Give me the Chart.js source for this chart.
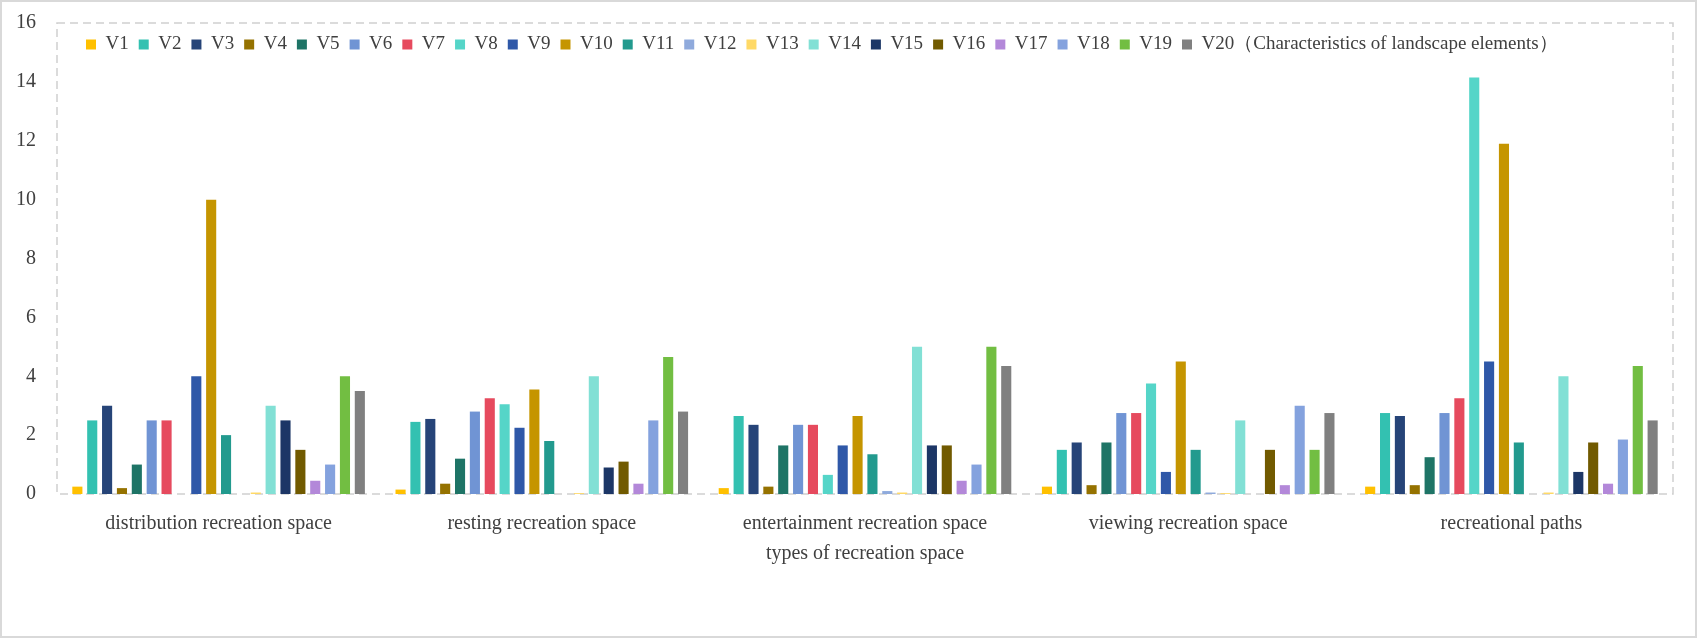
<!DOCTYPE html>
<html>
<head>
<meta charset="utf-8">
<script src="https://cdn.jsdelivr.net/npm/chart.js@4.4.1/dist/chart.umd.min.js"></script>
<style>
  html, body { margin: 0; padding: 0; background: #fff; }
  #wrap { width: 1697px; height: 638px; box-sizing: border-box; border: 2px solid #d9d9d9; }
</style>
</head>
<body>
<div id="wrap"><canvas id="chart"></canvas></div>
<script>
const categories = ['distribution recreation space', 'resting recreation space', 'entertainment recreation space', 'viewing recreation space', 'recreational paths'];
const seriesLabels = ['V1', 'V2', 'V3', 'V4', 'V5', 'V6', 'V7', 'V8', 'V9', 'V10',
  'V11', 'V12', 'V13', 'V14', 'V15', 'V16', 'V17', 'V18', 'V19', 'V20（Characteristics of landscape elements）'];
const yTicks = [0, 2, 4, 6, 8, 10, 12, 14, 16];

// one array per element, values for the five space types
const v1  = [0.25, 0.15, 0.2, 0.25, 0.25];
const v2  = [2.5, 2.45, 2.65, 1.5, 2.75];
const v3  = [3.0, 2.55, 2.35, 1.75, 2.65];
const v4  = [0.2, 0.35, 0.25, 0.3, 0.3];
const v5  = [1.0, 1.2, 1.65, 1.75, 1.25];
const v6  = [2.5, 2.8, 2.35, 2.75, 2.75];
const v7  = [2.5, 3.25, 2.35, 2.75, 3.25];
const v8  = [0, 3.05, 0.65, 3.75, 14.15];
const v9  = [4.0, 2.25, 1.65, 0.75, 4.5];
const v10 = [10.0, 3.55, 2.65, 4.5, 11.9];
const v11 = [2.0, 1.8, 1.35, 1.5, 1.75];
const v12 = [0, 0, 0.1, 0.05, 0];
const v13 = [0.05, 0.03, 0.05, 0.03, 0.05];
const v14 = [3.0, 4.0, 5.0, 2.5, 4.0];
const v15 = [2.5, 0.9, 1.65, 0, 0.75];
const v16 = [1.5, 1.1, 1.65, 1.5, 1.75];
const v17 = [0.45, 0.35, 0.45, 0.3, 0.35];
const v18 = [1.0, 2.5, 1.0, 3.0, 1.85];
const v19 = [4.0, 4.65, 5.0, 1.5, 4.35];
const v20 = [3.5, 2.8, 4.35, 2.75, 2.5];

const seriesValues = [v1, v2, v3, v4, v5, v6, v7, v8, v9, v10, v11, v12, v13, v14, v15, v16, v17, v18, v19, v20];
const colors = ['#FFC000', '#33C1B1', '#264478', '#957200', '#1E7466', '#7094D4', '#E64A5E', '#55D5C8', '#2F58A8', '#C59500',
  '#229A8E', '#8FAADC', '#FFD966', '#82E0D5', '#1C3666', '#715A00', '#B388D9', '#84A2DE', '#72BE42', '#808080'];

const serif = '"Liberation Serif", "Times New Roman", serif';

// dashed frame around the plot area
const frame = {
  id: 'frame',
  beforeDatasetsDraw(chart) {
    const a = chart.chartArea, c = chart.ctx;
    c.save();
    c.strokeStyle = '#d0d0d0';
    c.lineWidth = 1.5;
    c.setLineDash([8, 5]);
    c.strokeRect(a.left, a.top, a.right - a.left, a.bottom - a.top);
    c.restore();
  }
};

// legend drawn inside the frame: it reserves no height, then gets moved in
const legendInside = {
  id: 'legendInside',
  beforeLayout(chart) {
    const lg = chart.legend;
    if (!lg || lg._patched) return;
    const fit = lg.fit;
    lg.fit = function () {
      fit.call(this);
      this._realHeight = this.height;
      this.height = 0;
    };
    lg._patched = true;
  },
  afterLayout(chart) {
    const lg = chart.legend;
    if (!lg) return;
    const w = lg.width;
    lg.top = 23; lg.bottom = 23 + (lg._realHeight || 40);
    lg.left = 74; lg.right = 74 + w;
  }
};

const datasets = seriesValues.map((vals, i) => ({
  label: seriesLabels[i],
  data: vals,
  backgroundColor: colors[i],
  borderWidth: 0,
  categoryPercentage: 0.92,
  barPercentage: 0.68
}));

new Chart(document.getElementById('chart'), {
  type: 'bar',
  data: { labels: categories, datasets: datasets },
  plugins: [frame, legendInside],
  options: {
    responsive: true,
    maintainAspectRatio: false,
    animation: false,
    layout: { padding: { top: 21, right: 22, bottom: 70, left: 0 } },
    plugins: {
      legend: {
        position: 'top',
        align: 'start',
        labels: {
          boxWidth: 10,
          boxHeight: 10,
          padding: 10,
          color: '#404040',
          font: { family: serif, size: 19 }
        }
      },
      tooltip: { enabled: false }
    },
    scales: {
      x: {
        grid: { display: false, drawTicks: false },
        border: { display: false },
        ticks: { padding: 18, color: '#404040', font: { family: serif, size: 20 } },
        title: {
          display: true,
          text: 'types of recreation space',
          color: '#404040',
          padding: { top: -12, bottom: 0 },
          font: { family: serif, size: 20 }
        }
      },
      y: {
        min: 0,
        max: 16,
        afterBuildTicks(scale) { scale.ticks = yTicks.map(v => ({ value: v })); },
        afterFit(scale) {
          scale.width = 55;
          // tick padding is horizontal here, do not let it push the plot top down
          scale.paddingTop = 0;
          scale.paddingBottom = 0;
        },
        grid: { display: false, drawTicks: false },
        border: { display: false },
        ticks: { padding: 21, color: '#404040', font: { family: serif, size: 20 } }
      }
    }
  }
});
</script>
</body>
</html>
